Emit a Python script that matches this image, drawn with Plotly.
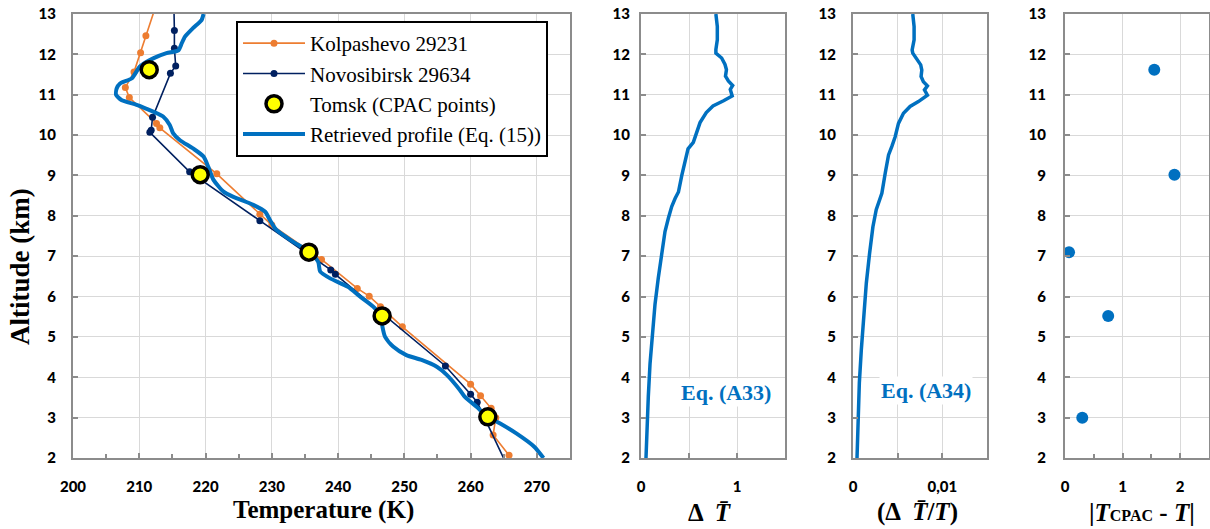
import plotly.graph_objects as go

# ---------------- data ----------------
kol_T = [265.8, 263.4, 263.8, 263.1, 261.5, 260.0, 249.7, 246.4, 244.7, 242.9, 237.5, 230.0, 228.2,
         221.7, 213.1, 212.6, 208.5, 207.9, 209.2, 210.2, 211.0, 212.9]
kol_h = [2.07, 2.57, 3.0, 3.23, 3.54, 3.83, 5.25, 5.75, 6.01, 6.2, 6.92, 7.77, 8.04,
         9.04, 10.18, 10.29, 10.93, 11.18, 11.56, 12.04, 12.46, 13.4]

nov_T = [265.4, 261.0, 260.0, 256.2, 239.6, 238.9, 228.2, 217.6, 211.6, 211.8, 212.0, 214.7, 215.5,
         215.3, 215.3, 215.2]
nov_h = [1.85, 3.38, 3.58, 4.28, 6.55, 6.66, 7.88, 9.09, 10.07, 10.12, 10.44, 11.53, 11.71,
         12.15, 12.59, 13.4]

cpac_T = [211.5, 219.2, 235.6, 246.65, 262.6]
cpac_h = [11.62, 9.02, 7.1, 5.52, 3.02]

ret_h = [2.0, 2.28, 2.61, 2.86, 3.02, 3.27, 3.52, 3.68, 4.06, 4.26, 4.43, 4.55, 4.76, 5.0, 5.25,
         5.5, 5.75, 6.0, 6.24, 6.45, 6.62, 6.86, 7.11, 7.36, 7.65, 7.9, 8.1, 8.27, 8.47, 8.6, 8.89,
         9.22, 9.47, 9.67, 9.88, 10.05, 10.25, 10.46, 10.58, 10.75, 10.87, 11.0, 11.16, 11.28,
         11.41, 11.7, 11.9, 12.03, 12.1, 12.27, 12.44, 12.65, 12.85, 13.0]
ret_T = [271.0, 269.6, 266.9, 264.4, 262.6, 260.9, 259.1, 258.4, 256.4, 254.9, 252.6, 250.3, 248.3,
         247.1, 246.7, 246.5, 245.3, 243.3, 241.5, 238.8, 237.3, 237.0, 235.6, 233.2, 230.7, 229.7,
         229.0, 227.2, 224.2, 222.7, 221.2, 220.4, 219.7, 218.1, 216.1, 215.1, 214.6, 213.6, 212.1,
         209.6, 207.3, 206.5, 206.6, 207.1, 208.9, 210.1, 212.1, 214.1, 215.9, 216.4, 216.9, 218.1,
         219.4, 219.7]

dT_h = [2.0, 2.7, 3.52, 4.33, 5.15, 5.81, 6.46, 7.12, 7.61, 7.94, 8.23, 8.43, 8.59, 9.0, 9.41, 9.66,
        9.82, 10.07, 10.31, 10.56, 10.72, 10.85, 10.97, 11.13, 11.23, 11.34, 11.46, 11.62, 11.75,
        11.91, 12.03, 12.12, 12.36, 12.69, 13.0]
dT_v = [0.052, 0.059, 0.076, 0.094, 0.12, 0.146, 0.18, 0.215, 0.25, 0.285, 0.32, 0.355, 0.39, 0.425,
        0.46, 0.49, 0.545, 0.58, 0.615, 0.68, 0.75, 0.86, 0.95, 0.93, 0.955, 0.91, 0.88, 0.89, 0.875,
        0.84, 0.78, 0.78, 0.795, 0.795, 0.78]

rel_h = [2.0, 3.03, 3.86, 4.68, 5.51, 6.33, 7.08, 7.73, 8.15, 8.31, 8.56, 9.06, 9.51, 9.72, 9.96,
         10.29, 10.54, 10.71, 10.83, 10.99, 11.12, 11.22, 11.32, 11.45, 11.61, 11.74, 11.86, 12.03,
         12.11, 12.36, 12.69, 13.0]
rel_v = [0.00045, 0.00056, 0.00071, 0.00093, 0.00119, 0.00149, 0.00186, 0.00223, 0.0026, 0.00286,
         0.00323, 0.00361, 0.00398, 0.00435, 0.00472, 0.00509, 0.00565, 0.00639, 0.00732, 0.00833,
         0.008, 0.00833, 0.00788, 0.00762, 0.0077, 0.00758, 0.00721, 0.00669, 0.00662, 0.00684,
         0.00684, 0.00669]

diff_h = [11.62, 9.02, 7.1, 5.52, 3.0]
diff_v = [1.55, 1.9, 0.07, 0.75, 0.3]

# ---------------- styles ----------------
W, H = 1210, 529
ORANGE = "#ED7D31"
NAVY = "#002060"
BLUE = "#0070C0"
AXC = "#8c8c8c"
GRID = "#d9d9d9"
TICKFONT = dict(family="Lato", size=15, color="black", weight=900)
SERIF = "Liberation Serif"


def px(x):
    return x / W


fig = go.Figure()

fig.add_trace(go.Scatter(x=kol_T, y=kol_h, mode="lines+markers", name="Kolpashevo 29231",
                         line=dict(color=ORANGE, width=1.6), marker=dict(size=7, color=ORANGE),
                         xaxis="x", yaxis="y", legendrank=1))
fig.add_trace(go.Scatter(x=nov_T, y=nov_h, mode="lines+markers", name="Novosibirsk 29634",
                         line=dict(color=NAVY, width=1.6), marker=dict(size=7, color=NAVY),
                         xaxis="x", yaxis="y", legendrank=2))
fig.add_trace(go.Scatter(x=ret_T, y=ret_h, mode="lines", name="Retrieved profile (Eq. (15))",
                         line=dict(color=BLUE, width=4, shape="spline", smoothing=0.6),
                         xaxis="x", yaxis="y", legendrank=4))
fig.add_trace(go.Scatter(x=cpac_T, y=cpac_h, mode="markers", name="Tomsk (CPAC points)",
                         marker=dict(size=16, color="#FFFF00", line=dict(color="black", width=3.5)),
                         xaxis="x", yaxis="y", legendrank=3))

fig.add_trace(go.Scatter(x=dT_v, y=dT_h, mode="lines", showlegend=False,
                         line=dict(color=BLUE, width=3.5), xaxis="x2", yaxis="y2"))
fig.add_trace(go.Scatter(x=rel_v, y=rel_h, mode="lines", showlegend=False,
                         line=dict(color=BLUE, width=3.5), xaxis="x3", yaxis="y3"))
fig.add_trace(go.Scatter(x=diff_v, y=diff_h, mode="markers", showlegend=False,
                         marker=dict(size=12, color=BLUE), xaxis="x4", yaxis="y4"))

common_ax = dict(showline=True, linecolor=AXC, linewidth=2, mirror=True, showgrid=True,
                 gridcolor=GRID, gridwidth=1, zeroline=False, ticks="inside", ticklen=5,
                 tickwidth=1.5, tickcolor=AXC, tickfont=TICKFONT, automargin=False)

ycommon = dict(common_ax, range=[2, 13], tickvals=list(range(2, 14)), ticklabelstandoff=12)

fig.update_layout(
    width=W, height=H,
    margin=dict(l=0, r=0, t=14, b=71),
    plot_bgcolor="white", paper_bgcolor="white",
    xaxis=dict(common_ax, domain=[px(73), px(570)], range=[200, 275],
               tickvals=list(range(200, 271, 10)), ticklabelstandoff=14,
               minor=dict(dtick=5, tick0=200, ticks="inside", ticklen=4, tickcolor=AXC,
                          showgrid=False), anchor="y"),
    yaxis=dict(ycommon, domain=[0, 1], anchor="x"),
    xaxis2=dict(common_ax, domain=[px(641), px(785)], range=[0, 1.5],
                tickvals=[0, 0.5, 1], ticktext=["0", "", "1"], ticklabelstandoff=14, anchor="y2"),
    yaxis2=dict(ycommon, domain=[0, 1], anchor="x2", ticklabelstandoff=6),
    xaxis3=dict(common_ax, domain=[px(853), px(987)], range=[0, 0.015],
                tickvals=[0, 0.005, 0.01], ticktext=["0", "", "0,01"], ticklabelstandoff=14,
                anchor="y3"),
    yaxis3=dict(ycommon, domain=[0, 1], anchor="x3"),
    xaxis4=dict(common_ax, domain=[px(1065), px(1209)], range=[0, 2.5],
                tickvals=[0, 1, 2], ticklabelstandoff=14,
                minor=dict(tickvals=[0.5, 1.5], ticks="inside", ticklen=4, tickcolor=AXC,
                           showgrid=False), anchor="y4"),
    yaxis4=dict(ycommon, domain=[0, 1], anchor="x4", ticklabelstandoff=14),
    legend=dict(x=px(236), y=1 - (21 - 14) / 444, xanchor="left", yanchor="top",
                bgcolor="white", bordercolor="black", borderwidth=2,
                font=dict(family=SERIF, size=21, color="black"),
                itemwidth=62, tracegroupgap=0),
    showlegend=True,
)


def ypaper(py):
    return (458 - py) / 444


ann = [
    dict(text="<b>Altitude (km)</b>", x=px(20), y=ypaper(267), textangle=-90, size=27),
    dict(text="<b>Temperature (K)</b>", x=px(323), y=ypaper(510), textangle=0, size=25),
    dict(text="<b>Δ  <i>T\u0304</i></b>", x=px(710), y=ypaper(512), textangle=0, size=25),
    dict(text="<b>(Δ  <i>T\u0304</i>/<i>T</i>)</b>", x=px(917), y=ypaper(512), textangle=0, size=25),
    dict(text="<b>|<i>T</i><span style='font-size:16px'>CPAC</span> - <i>T</i>|</b>",
         x=px(1142), y=ypaper(512), textangle=0, size=25),
]
for a in ann:
    fig.add_annotation(text=a["text"], x=a["x"], y=a["y"], xref="paper", yref="paper",
                       showarrow=False, textangle=a["textangle"], xanchor="center", yanchor="middle",
                       font=dict(family=SERIF, size=a["size"], color="black"))

fig.add_annotation(text="<b>Eq. (A33)</b>", x=0.885, y=3.62, xref="x2", yref="y2", showarrow=False,
                   bgcolor="white", font=dict(family=SERIF, size=22, color=BLUE))
fig.add_annotation(text="<b>Eq. (A34)</b>", x=0.00815, y=3.68, xref="x3", yref="y3", showarrow=False,
                   bgcolor="white", font=dict(family=SERIF, size=22, color=BLUE))

fig.write_html("out.html")
